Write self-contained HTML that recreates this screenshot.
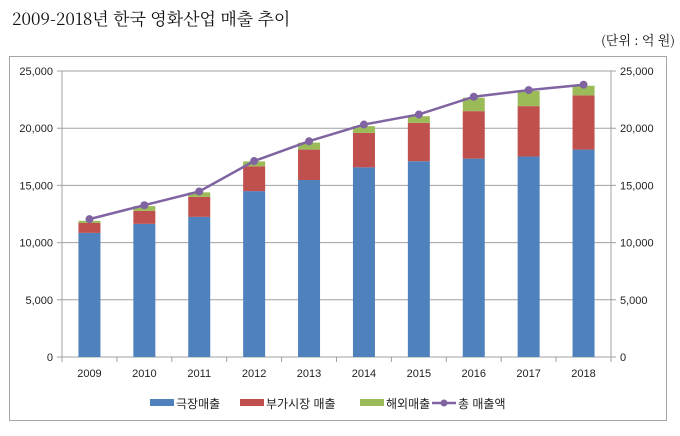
<!DOCTYPE html>
<html><head><meta charset="utf-8"><style>
body{margin:0;background:#fff;width:680px;height:431px;overflow:hidden;font-family:"Liberation Sans","Noto Sans CJK KR",sans-serif}
</style></head><body>
<svg width="680" height="431" xmlns="http://www.w3.org/2000/svg">
<text x="12" y="25" font-size="17" font-family="'Noto Serif CJK SC','Liberation Serif',serif" fill="#111">2009-2018년 한국 영화산업 매출 추이</text>
<text x="675" y="45" font-size="13" text-anchor="end" font-family="'Noto Serif CJK SC','Liberation Serif',serif" fill="#111">(단위 : 억 원)</text>
<rect x="9.5" y="56.5" width="657" height="364" fill="none" stroke="#a6a6a6"/>
<g id="g"></g>
</svg>
<script>
const years=['2009','2010','2011','2012','2013','2014','2015','2016','2017','2018'];
const theater=[10850,11640,12250,14500,15470,16580,17110,17340,17520,18130];
const ancillary=[870,1140,1750,2170,2660,3010,3360,4150,4410,4740];
const overseas=[180,410,390,430,610,590,580,1170,1320,840];
const total=[12050,13270,14470,17130,18860,20320,21200,22750,23330,23800];
const ticks=[0,5000,10000,15000,20000,25000];
const tickLabels=['0','5,000','10,000','15,000','20,000','25,000'];
const NS='http://www.w3.org/2000/svg';
const g=document.getElementById('g');
const L=62,R=611,T=71,B=357,MAX=25000;
const y=v=>B-(v/MAX)*(B-T);
const band=(R-L)/years.length;
const x=i=>L+band*(i+0.5);
function mk(t,a,p){const e=document.createElementNS(NS,t);for(const k in a)e.setAttribute(k,a[k]);(p||g).appendChild(e);return e;}
ticks.forEach((v,i)=>{
 const gl=mk('line',{x1:L-5,x2:R+5,y1:y(v),y2:y(v),stroke:'#a0a0a0','stroke-width':1});
 
 
 const tl=mk('text',{x:L-9,y:y(v)+4,'font-size':11,'text-anchor':'end',fill:'#222'});
 tl.textContent=tickLabels[i];
 
 
 const tr=mk('text',{x:R+9,y:y(v)+4,'font-size':11,'text-anchor':'start',fill:'#222'});
 tr.textContent=tickLabels[i];
 
 
});
mk('line',{x1:L,x2:L,y1:T,y2:B,stroke:'#a0a0a0'});
mk('line',{x1:R,x2:R,y1:T,y2:B,stroke:'#a0a0a0'});
for(let i=0;i<=years.length;i++){mk('line',{x1:L+band*i,x2:L+band*i,y1:B,y2:B+5,stroke:'#a0a0a0'});}
const bw=22;
years.forEach((yr,i)=>{
 const segs=[[theater[i],'#4f81bd','bar-theater'],[ancillary[i],'#c0504d','bar-ancillary'],[overseas[i],'#9bbb59','bar-overseas']];
 let base=0;
 segs.forEach(s=>{
  const r=mk('rect',{x:x(i)-bw/2,y:y(base+s[0]),width:bw,height:y(base)-y(base+s[0]),fill:s[1]});
  
  
  base+=s[0];
 });
 const t=mk('text',{x:x(i),y:B+20,'font-size':11,'text-anchor':'middle',fill:'#222'});
 t.textContent=yr;
 
 
});
const pl=mk('polyline',{points:total.map((v,i)=>x(i)+','+y(v)).join(' '),fill:'none',stroke:'#8064a2','stroke-width':2.5});


total.forEach((v,i)=>{
 const c=mk('circle',{cx:x(i),cy:y(v),r:4,fill:'#8064a2'});
 
 
});
const leg=[['극장매출','#4f81bd',150,'rect'],['부가시장 매출','#c0504d',240,'rect'],['해외매출','#9bbb59',360,'rect'],['총 매출액','#8064a2',432,'line']];
leg.forEach(l=>{
 const lg=mk('g',{});
 
 
 if(l[3]==='rect'){mk('rect',{x:l[2],y:399,width:24,height:7,fill:l[1]},lg);}
 else{mk('line',{x1:l[2],x2:l[2]+24,y1:403,y2:403,stroke:l[1],'stroke-width':2.5},lg);mk('circle',{cx:l[2]+12,cy:403,r:3.5,fill:l[1]},lg);}
 const t=mk('text',{x:l[2]+26,y:408,'font-size':12,fill:'#222'},lg);
 t.textContent=l[0];
});
</script>
</body></html>
